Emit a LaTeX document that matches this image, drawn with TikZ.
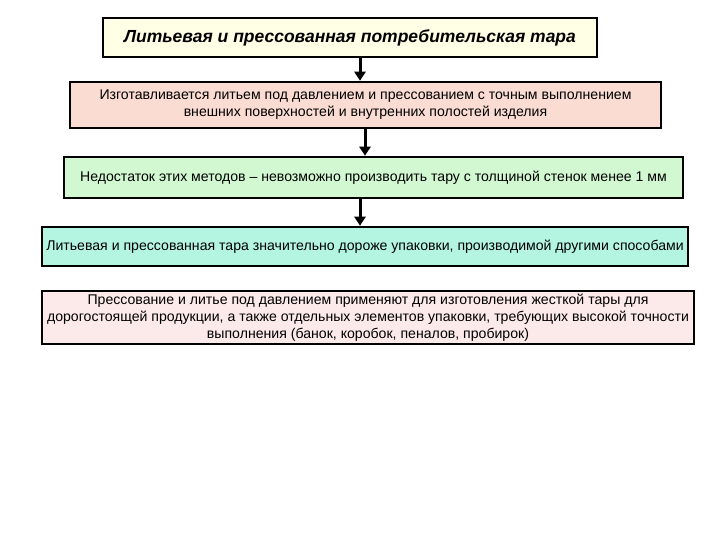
\documentclass[tikz,border=0pt]{standalone}
\usepackage{fontspec}
\setmainfont{Liberation Sans}
\usetikzlibrary{arrows.meta}
\definecolor{c1}{HTML}{FFFFE6}
\definecolor{c2}{HTML}{FADCD2}
\definecolor{c3}{HTML}{D2F8D2}
\definecolor{c4}{HTML}{B4F5E1}
\definecolor{c5}{HTML}{FCEAEA}
\tikzset{box/.style={draw=black,line width=2.5pt,inner sep=1pt,align=center,font=\fontsize{14.1}{17}\selectfont},
arr/.style={line width=3pt,-{Triangle[length=9pt,width=11pt]}}}
\begin{document}
\begin{tikzpicture}[x=1pt,y=-1pt]
\useasboundingbox (0,0) rectangle (720,540);
\node[box,fill=c1,minimum width=494,minimum height=39,font=\fontsize{17.5}{20}\selectfont\bfseries\itshape] (b1) at (350,37.5) {Литьевая и прессованная потребительская тара};
\node[box,fill=c2,minimum width=591,minimum height=46] (b2) at (365.5,105) {Изготавливается литьем под давлением и прессованием с точным выполнением\\внешних поверхностей и внутренних полостей изделия};
\node[box,fill=c3,minimum width=619,minimum height=41] (b3) at (373.5,177.5) {Недостаток этих методов -- невозможно производить тару с толщиной стенок менее 1 мм};
\node[box,fill=c4,minimum width=646,minimum height=39] (b4) at (365,246.5) {Литьевая и прессованная тара значительно дороже упаковки, производимой другими способами};
\node[box,fill=c5,minimum width=652,minimum height=53] (b5) at (368,317.5) {Прессование и литье под давлением применяют для изготовления жесткой тары для\\дорогостоящей продукции, а также отдельных элементов упаковки, требующих высокой точности\\выполнения (банок, коробок, пеналов, пробирок)};
\coordinate (x1) at (360,0);
\coordinate (x2) at (365,0);
\coordinate (x3) at (360,0);
\draw[arr] (b1.south -| x1) -- (b2.north -| x1);
\draw[arr] (b2.south -| x2) -- (b3.north -| x2);
\draw[arr] (b3.south -| x3) -- (b4.north -| x3);
\end{tikzpicture}
\end{document}
